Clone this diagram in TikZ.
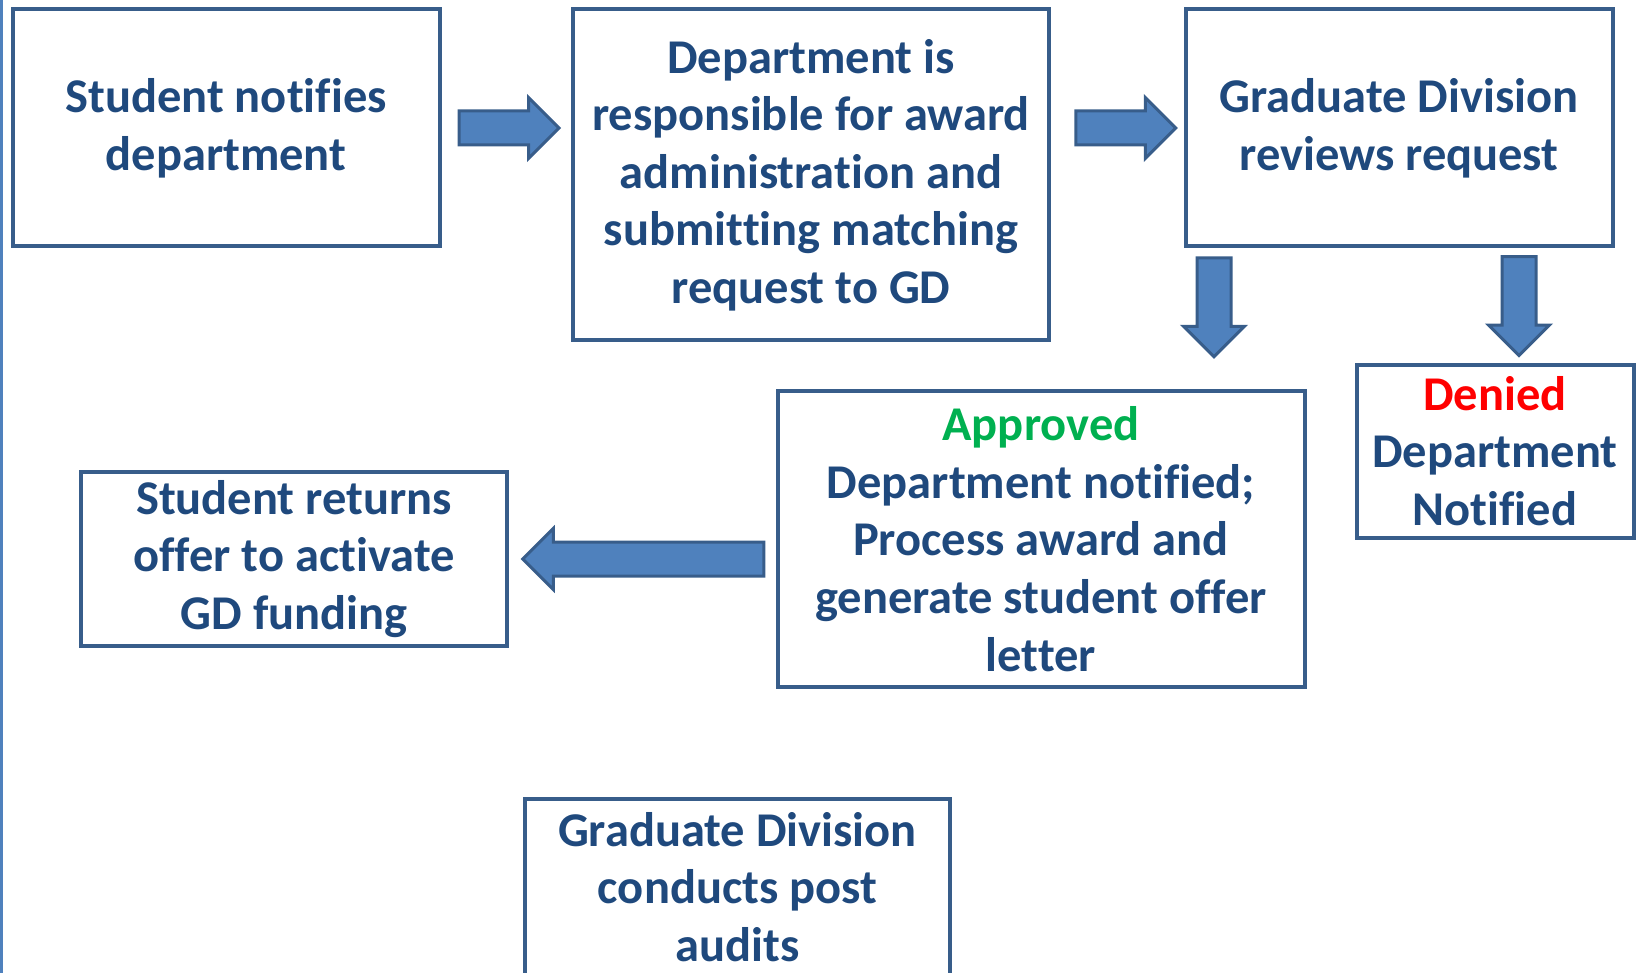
\documentclass[tikz,border=0pt]{standalone}
\usepackage{fontspec}
\setmainfont[Ligatures=NoCommon]{Carlito}
\usepackage{xcolor}
\usepackage{tikz}
\usetikzlibrary{shapes.arrows, positioning}
\definecolor{boxedge}{HTML}{385D8A}
\definecolor{boxtext}{HTML}{1F497D}
\definecolor{arrowfill}{HTML}{4F81BD}
\definecolor{okgreen}{HTML}{00B050}
\definecolor{nored}{HTML}{FF0000}

\begin{document}
\begin{tikzpicture}[x=1pt, y=-1pt]
\tikzstyle{block} = [rectangle, draw=boxedge, line width=4pt, text=boxtext, align=center, font=\fontsize{48.5}{57.6}\selectfont\bfseries]
\tikzstyle{fatarrow} = [single arrow, draw=boxedge, fill=arrowfill, line width=3pt, inner sep=15.5pt, single arrow head extend=13.5pt, single arrow tip angle=90]
\useasboundingbox (0,0) rectangle (1643,973);
\clip (0,0) rectangle (1643,973);
\draw [arrowfill, line width=3pt] (1.5,0) -- (1.5,973);
% top row
\node [block, minimum width=427pt, minimum height=237pt] (notify) at (226,128) {Student notifies\\department};
\node [block, minimum width=476pt, minimum height=331pt] (dept) at (811,175) {Department is\\responsible for award\\administration and\\submitting matching\\request to GD};
\node [block, minimum width=427pt, minimum height=237pt] (review) at (1399,128) {Graduate Division\\reviews request};
% outcomes
\node [block, minimum width=527pt, minimum height=296pt] (approved) at (1041,539) {\textcolor{okgreen}{Approved}\\Department notified;\\Process award and\\generate student offer\\letter};
\node [block, minimum width=277pt, minimum height=173pt] (denied) at (1495,451) {\textcolor{nored}{Denied}\\Department\\Notified};
\node [block, minimum width=426pt, minimum height=174pt] (returns) at (294,559) {Student returns\\offer to activate\\GD funding};
\node [block, minimum width=425pt, minimum height=176pt] (audit) at (737.5,887) {Graduate Division\\conducts post\\audits};
% block arrows
\coordinate (yes) at ([xshift=-185pt]review.south);
\coordinate (no) at ([xshift=120pt]review.south);
\path (notify.east) -- node [fatarrow, minimum height=100pt, pos=.456] {} (notify.east -| dept.west);
\path (review.west -| dept.east) -- node [fatarrow, minimum height=100pt] {} (review.west);
\path (yes) -- node [fatarrow, minimum height=99pt, shape border rotate=270, pos=.358] {} (yes |- approved.north);
\path (no) -- node [fatarrow, minimum height=99pt, shape border rotate=270, pos=.43] {} (no |- denied.north);
\path (approved.west |- returns.east) -- node [fatarrow, minimum height=241pt, shape border rotate=180, pos=.464] {} (returns.east);
\end{tikzpicture}
\end{document}
